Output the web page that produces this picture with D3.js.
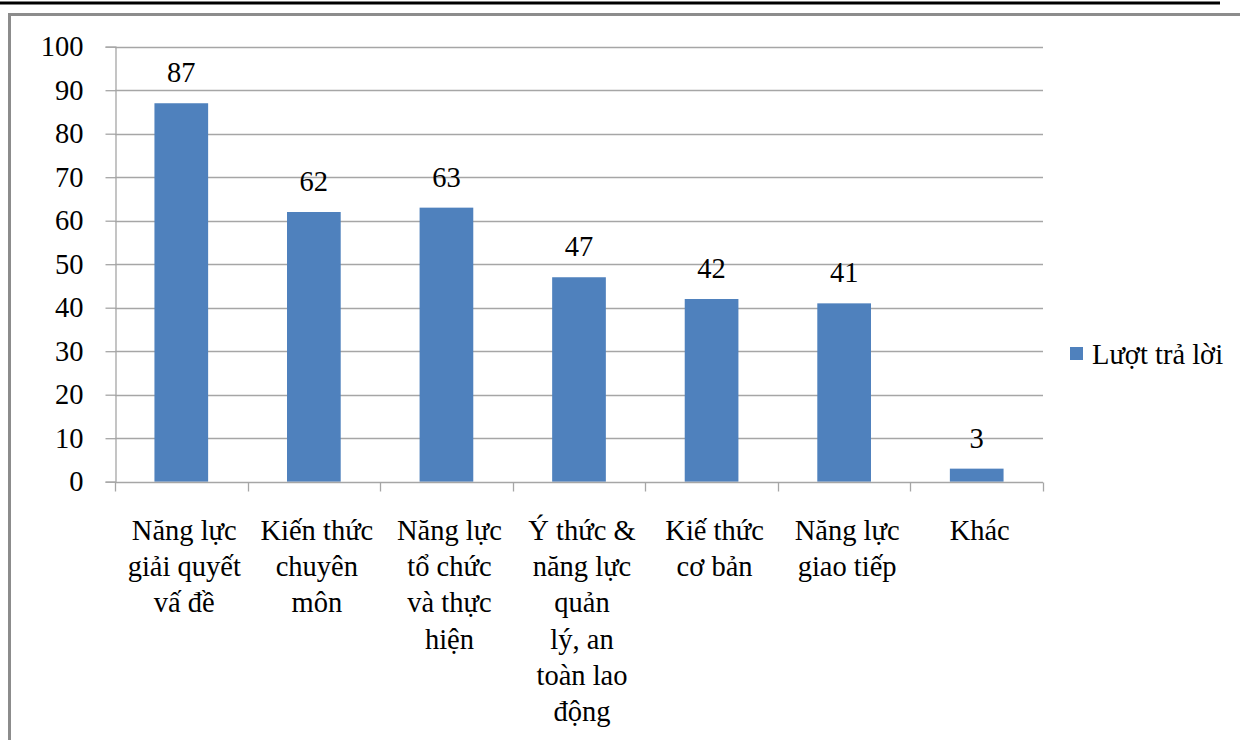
<!DOCTYPE html>
<html>
<head>
<meta charset="utf-8">
<script src="https://cdn.jsdelivr.net/npm/d3@7"></script>
<style>
  html, body { margin: 0; padding: 0; background: #fff; }
  svg { display: block; }
  text { font-family: "Liberation Serif", Tinos, "Times New Roman", Times, "DejaVu Serif", serif; fill: #000; }
</style>
</head>
<body>
<svg id="chart" width="1240" height="740"></svg>
<script>
// Categories (each wrapped into display lines)
const categories = [
  "Năng lực giải quyết vấ đề",
  "Kiến thức chuyên môn",
  "Năng lực tổ chức và thực hiện",
  "Ý thức & năng lực quản lý, an toàn lao động",
  "Kiế thức cơ bản",
  "Năng lực giao tiếp",
  "Khác"
];
const categoryLines = [
  ["Năng lực", "giải quyết", "vấ đề"],
  ["Kiến thức", "chuyên", "môn"],
  ["Năng lực", "tổ chức", "và thực", "hiện"],
  ["Ý thức &", "năng lực", "quản", "lý, an", "toàn lao", "động"],
  ["Kiế thức", "cơ bản"],
  ["Năng lực", "giao tiếp"],
  ["Khác"]
];
const values = [87, 62, 63, 47, 42, 41, 3];
const seriesName = "Lượt trả lời";
const yTicks = [0, 10, 20, 30, 40, 50, 60, 70, 80, 90, 100];

const serif = '"Liberation Serif", Tinos, "Times New Roman", Times, "DejaVu Serif", serif';
const fontSize = 28.5;
const svg = d3.select("#chart");
const barColor = "#4F81BD";
const gridColor = "#a6a6a6";

// Page decorations: black rule and gray frame
svg.append("line")
  .attr("x1", 0).attr("x2", 1220).attr("y1", 3).attr("y2", 3)
  .attr("stroke", "#000").attr("stroke-width", 3);
svg.append("path")
  .attr("d", "M9.5,745 L9.5,14.5 L1245,14.5")
  .attr("fill", "none").attr("stroke", "#8c8c8c").attr("stroke-width", 3);

const plot = { left: 115, right: 1043, top: 46.7, bottom: 481.7 };

const x = d3.scaleBand()
  .domain(categories)
  .range([plot.left, plot.right])
  .paddingInner(0).paddingOuter(0);
const y = d3.scaleLinear()
  .domain([0, 100])
  .range([plot.bottom, plot.top]);

const barW = x.bandwidth() * 0.405;

// Horizontal gridlines
svg.append("g")
  .selectAll("line")
  .data(yTicks.filter(d => d > 0))
  .join("line")
  .attr("x1", plot.left).attr("x2", plot.right)
  .attr("y1", d => Math.round(y(d)) + 0.5).attr("y2", d => Math.round(y(d)) + 0.5)
  .attr("stroke", gridColor).attr("stroke-width", 1.3);

// Y axis
const yAxis = svg.append("g")
  .attr("transform", `translate(${plot.left + 0.5},0)`)
  .call(d3.axisLeft(y).tickValues(yTicks).tickSize(10).tickPadding(22).tickFormat(d3.format("d")));
yAxis.attr("font-family", serif).attr("font-size", fontSize);
yAxis.select(".domain").attr("stroke", gridColor).attr("stroke-width", 1.3);
yAxis.selectAll(".tick line").attr("stroke", gridColor).attr("stroke-width", 1.3);
yAxis.selectAll(".tick text").attr("fill", "#000");

// Bars
svg.append("g")
  .selectAll("rect")
  .data(values)
  .join("rect")
  .attr("x", (d, i) => x(categories[i]) + (x.bandwidth() - barW) / 2)
  .attr("width", barW)
  .attr("y", d => y(d))
  .attr("height", d => y(0) - y(d))
  .attr("fill", barColor);

// X axis with ticks at category boundaries
const xAxisG = svg.append("g").attr("transform", `translate(0,${Math.round(plot.bottom) + 0.5})`);
xAxisG.append("line")
  .attr("x1", plot.left).attr("x2", plot.right)
  .attr("stroke", gridColor).attr("stroke-width", 1.3);
const boundaries = categories.map(c => x(c)).concat([x(categories[categories.length - 1]) + x.step()]);
xAxisG.selectAll("line.tk")
  .data(boundaries)
  .join("line")
  .attr("class", "tk")
  .attr("x1", d => Math.round(d) + 0.5).attr("x2", d => Math.round(d) + 0.5)
  .attr("y1", 0).attr("y2", 9)
  .attr("stroke", gridColor).attr("stroke-width", 1.3);

// Category labels
const catG = svg.append("g").attr("font-family", serif);
categoryLines.forEach((lines, i) => {
  const cx = x(categories[i]) + x.bandwidth() / 2 + 3;
  const t = catG.append("text")
    .attr("text-anchor", "middle")
    .attr("font-size", fontSize);
  lines.forEach((ln, j) => {
    t.append("tspan")
      .attr("x", cx)
      .attr("y", 540 + j * 36.2)
      .text(ln);
  });
});

// Value labels
svg.append("g")
  .attr("font-family", serif)
  .selectAll("text")
  .data(values)
  .join("text")
  .attr("x", (d, i) => x(categories[i]) + x.bandwidth() / 2)
  .attr("y", d => y(d) - 21)
  .attr("text-anchor", "middle")
  .attr("font-size", fontSize)
  .text(d => d);

// Legend
const lg = svg.append("g").attr("transform", "translate(1070,347)").attr("font-family", serif);
lg.append("rect").attr("width", 13).attr("height", 13).attr("fill", barColor);
lg.append("text").attr("x", 22).attr("y", 17).attr("font-size", fontSize).text(seriesName);
</script>
</body>
</html>
